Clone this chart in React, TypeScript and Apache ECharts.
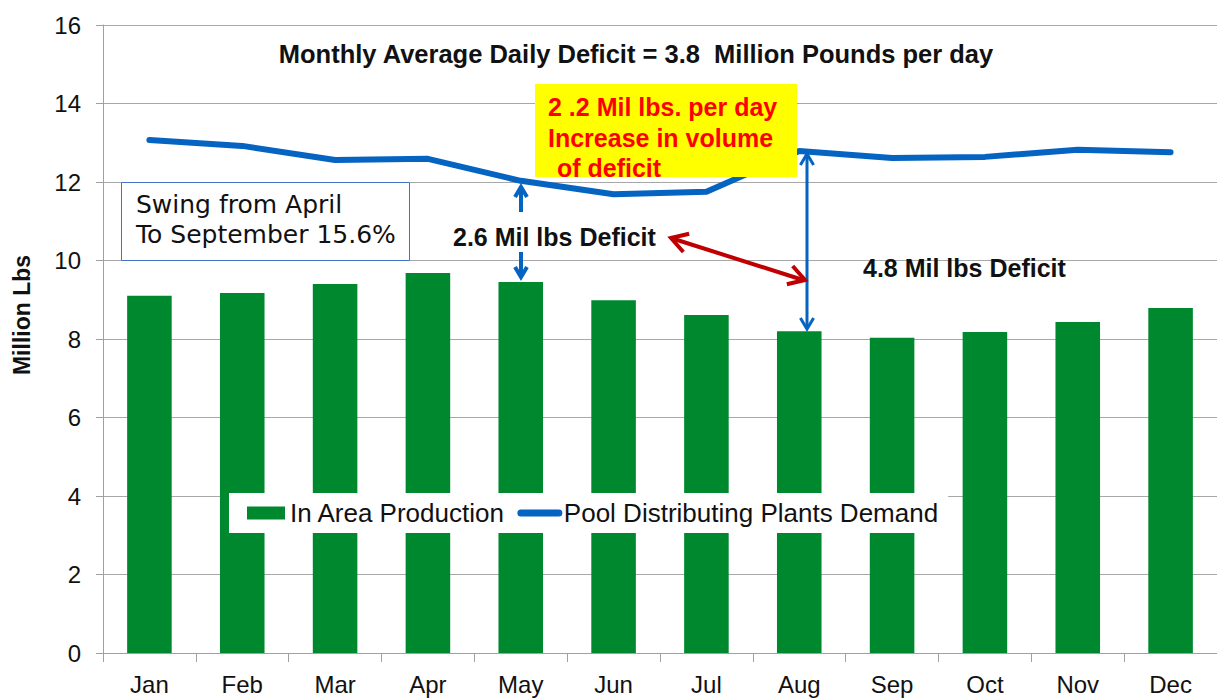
import React, { useEffect, useRef } from "react";
import * as echarts from "echarts";

const months = ["Jan", "Feb", "Mar", "Apr", "May", "Jun", "Jul", "Aug", "Sep", "Oct", "Nov", "Dec"];
const production = [9.1, 9.17, 9.4, 9.68, 9.45, 8.99, 8.61, 8.2, 8.03, 8.18, 8.43, 8.79];
const demand = [13.07, 12.92, 12.56, 12.59, 12.03, 11.69, 11.75, 12.79, 12.61, 12.64, 12.82, 12.76];
const yTicks = { min: 0, max: 16, interval: 2 };

const FONT = "'Liberation Sans', Arial, sans-serif";
const BLUE = "#0563c1";
const GREEN = "#00882f";
const RED = "#c00000";

function arrowHead(x: number, y: number, dx: number, dy: number, size: number, color: string, w: number) {
  const len = Math.sqrt(dx * dx + dy * dy);
  const ux = dx / len, uy = dy / len;
  const px = -uy, py = ux;
  const bx = x - ux * size, by = y - uy * size;
  const half = size * 0.6;
  return {
    type: "polyline",
    shape: { points: [[bx + px * half, by + py * half], [x, y], [bx - px * half, by - py * half]] },
    style: { stroke: color, lineWidth: w, fill: null, lineJoin: "miter" },
    z: 100,
  };
}

function arrowLine(x1: number, y1: number, x2: number, y2: number, color: string, w: number) {
  return { type: "line", shape: { x1, y1, x2, y2 }, style: { stroke: color, lineWidth: w }, z: 100 };
}

export default function App() {
  const ref = useRef<HTMLDivElement>(null);
  useEffect(() => {
    if (!ref.current) return;
    const chart = echarts.init(ref.current, undefined, { renderer: "svg" });
    chart.setOption({
      animation: false,
      backgroundColor: "#ffffff",
      grid: { left: 103, top: 25, bottom: 45, right: -10 },
      legend: {
        left: 229,
        top: 493,
        padding: [7, 10, 7, 18],
        backgroundColor: "#ffffff",
        itemGap: 12,
        itemWidth: 38,
        itemHeight: 13,
        textStyle: { fontFamily: FONT, fontSize: 26, color: "#111" },
        data: [
          { name: "In Area Production", icon: "rect" },
          {
            name: "Pool Distributing Plants Demand",
            itemStyle: { opacity: 0 },
            lineStyle: { width: 7, cap: "round", color: BLUE },
          },
        ],
      },
      xAxis: {
        type: "category",
        data: months,
        axisLine: { lineStyle: { color: "#a0a0a0" } },
        axisTick: { show: true, length: 9, lineStyle: { color: "#a0a0a0" } },
        axisLabel: { fontFamily: FONT, fontSize: 24, color: "#111", margin: 19 },
      },
      yAxis: {
        type: "value",
        min: yTicks.min,
        max: yTicks.max,
        interval: yTicks.interval,
        axisLine: { show: true, lineStyle: { color: "#a0a0a0" } },
        axisTick: { show: true, length: 7, lineStyle: { color: "#a0a0a0" } },
        splitLine: { lineStyle: { color: "#a8a8a8" } },
        axisLabel: { fontFamily: FONT, fontSize: 24, color: "#111", margin: 22 },
      },
      series: [
        {
          name: "In Area Production",
          type: "bar",
          data: production,
          barWidth: "48%",
          itemStyle: { color: GREEN },
          z: 2,
        },
        {
          name: "Pool Distributing Plants Demand",
          type: "line",
          data: demand,
          symbol: "none",
          lineStyle: { color: BLUE, width: 6, cap: "round", join: "round" },
          itemStyle: { color: BLUE },
          z: 3,
        },
      ],
      graphic: [
        {
          type: "text",
          x: 22,
          y: 315,
          rotation: Math.PI / 2,
          style: {
            text: "Million Lbs",
            font: `bold 23px ${FONT}`,
            fill: "#111",
            align: "center",
            verticalAlign: "middle",
          },
        },
        {
          type: "text",
          x: 636,
          y: 54,
          style: {
            text: "Monthly Average Daily Deficit = 3.8  Million Pounds per day",
            font: `bold 25.5px ${FONT}`,
            fill: "#111",
            align: "center",
            verticalAlign: "middle",
          },
          z: 100,
        },
        {
          type: "rect",
          shape: { x: 535, y: 84, width: 262, height: 93 },
          style: { fill: "#ffff00" },
          z: 90,
        },
        {
          type: "text",
          x: 548,
          y: 107,
          style: { text: "2 .2 Mil lbs. per day", font: `bold 25px ${FONT}`, fill: "#ff0000", verticalAlign: "middle" },
          z: 100,
        },
        {
          type: "text",
          x: 548,
          y: 138,
          style: { text: "Increase in volume", font: `bold 25px ${FONT}`, fill: "#ff0000", verticalAlign: "middle" },
          z: 100,
        },
        {
          type: "text",
          x: 550,
          y: 168,
          style: { text: " of deficit", font: `bold 25px ${FONT}`, fill: "#ff0000", verticalAlign: "middle" },
          z: 100,
        },
        {
          type: "rect",
          shape: { x: 121.5, y: 182.5, width: 288, height: 78 },
          style: { fill: "#ffffff", stroke: "#4472c4", lineWidth: 1 },
          z: 90,
        },
        {
          type: "text",
          x: 136,
          y: 204,
          style: { text: "Swing from April", font: `25px 'DejaVu Sans', sans-serif`, fill: "#111", verticalAlign: "middle" },
          z: 100,
        },
        {
          type: "text",
          x: 136,
          y: 234,
          style: { text: "To September 15.6%", font: `25px 'DejaVu Sans', sans-serif`, fill: "#111", verticalAlign: "middle" },
          z: 100,
        },
        {
          type: "text",
          x: 453,
          y: 237,
          style: { text: "2.6 Mil lbs Deficit", font: `bold 25px ${FONT}`, fill: "#111", verticalAlign: "middle" },
          z: 100,
        },
        {
          type: "text",
          x: 863,
          y: 268,
          style: { text: "4.8 Mil lbs Deficit", font: `bold 25px ${FONT}`, fill: "#111", verticalAlign: "middle" },
          z: 100,
        },
        arrowLine(521, 212, 521, 188, BLUE, 4),
        arrowHead(521, 187, 0, -1, 10, BLUE, 4),
        arrowLine(521, 252, 521, 276, BLUE, 4),
        arrowHead(521, 277, 0, 1, 10, BLUE, 4),
        arrowLine(807, 154, 807, 329, BLUE, 3),
        arrowHead(807, 154, 0, -1, 11, BLUE, 3),
        arrowHead(807, 329, 0, 1, 11, BLUE, 3),
        arrowLine(674, 239, 803, 280, RED, 4),
        arrowHead(671, 238, -132, -42, 16, RED, 4),
        arrowHead(805, 280, 132, 42, 16, RED, 4),
      ],
    });
    return () => chart.dispose();
  }, []);
  return <div ref={ref} style={{ position: "fixed", left: 0, top: 0, width: 1217, height: 698 }} />;
}
